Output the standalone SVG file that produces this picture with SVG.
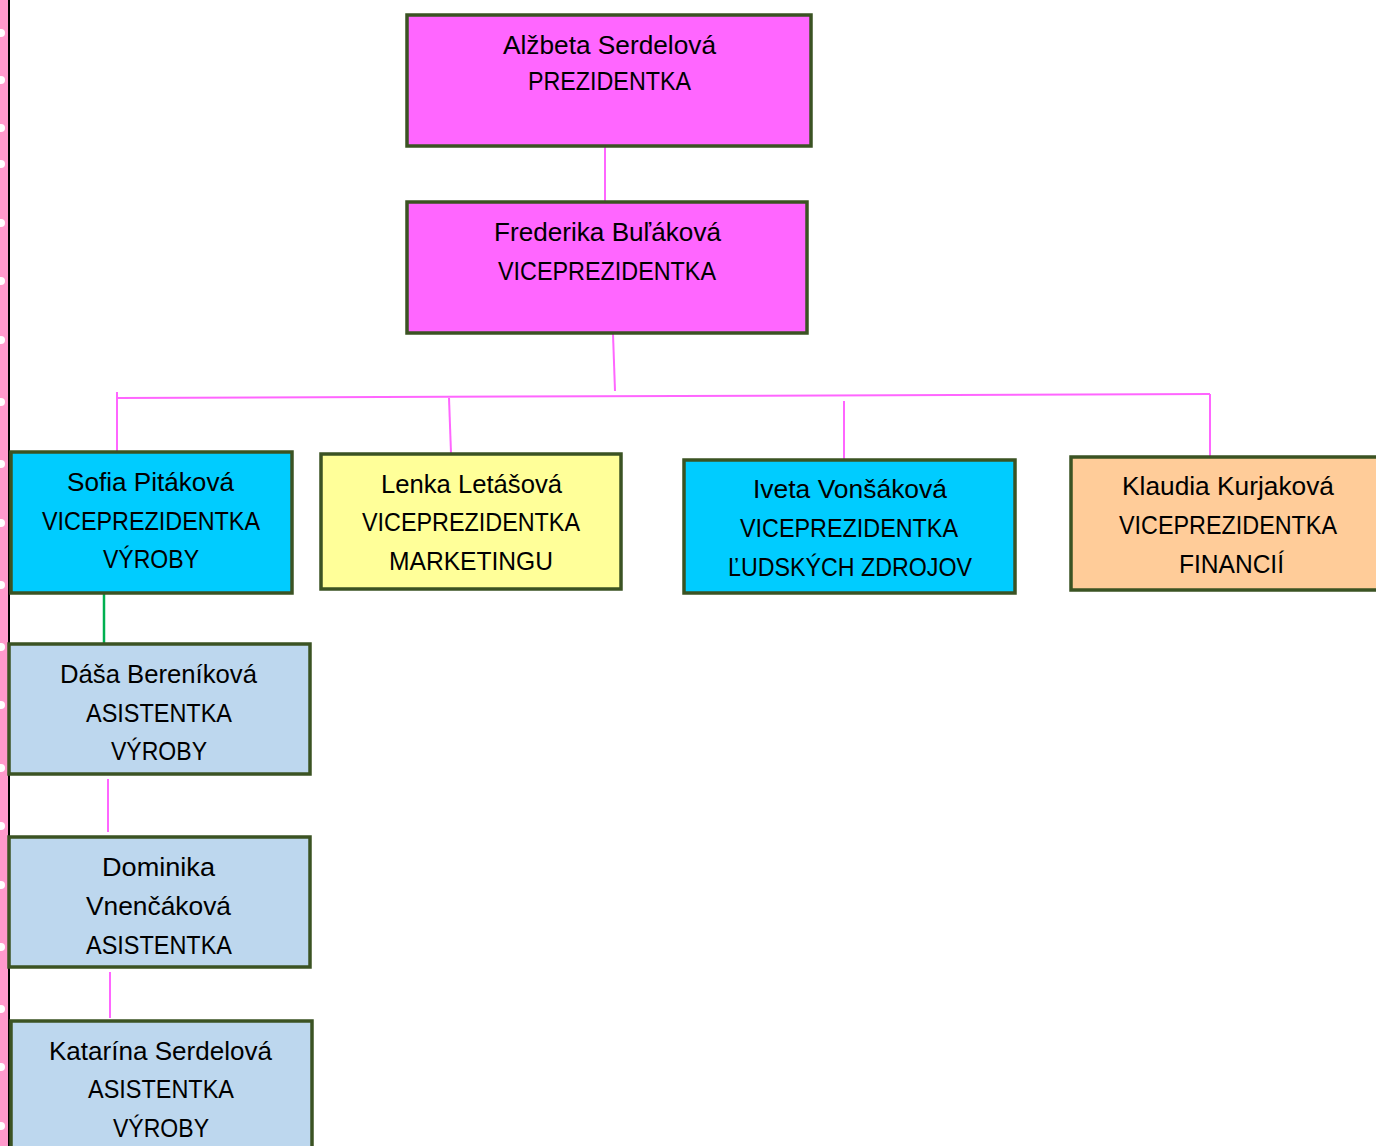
<svg xmlns="http://www.w3.org/2000/svg" width="1376" height="1146" viewBox="0 0 1376 1146">
<style>
.box{stroke:#3B5323;stroke-width:3.5}
.pink{fill:#FF66FF}
.cyan{fill:#00CCFF}
.yellow{fill:#FFFF99}
.orange{fill:#FFCC99}
.light{fill:#BDD7EE}
.t{font-family:"Liberation Sans",Arial,sans-serif;font-size:26px;fill:#000;text-anchor:middle}
.c{stroke:#FF66FF;stroke-width:2;fill:none}
.g{stroke:#00B050;stroke-width:2.5;fill:none}
.dot{fill:#FFFFFF}
</style>
<rect width="1376" height="1146" fill="#FFFFFF"/>
<g id="border">
<rect x="0" y="0" width="8" height="1146" fill="#FF99CC"/>
<rect x="8" y="0" width="2" height="1146" fill="#000000"/>
<g class="dot">
<circle cx="1" cy="33" r="4"/><circle cx="1" cy="80" r="4"/><circle cx="1" cy="128" r="4"/><circle cx="1" cy="164" r="4"/>
<circle cx="1" cy="223" r="4"/><circle cx="1" cy="281" r="4"/><circle cx="1" cy="340" r="4"/><circle cx="1" cy="402" r="4"/>
<circle cx="1" cy="464" r="4"/><circle cx="1" cy="523" r="4"/><circle cx="1" cy="585" r="4"/><circle cx="1" cy="647" r="4"/>
<circle cx="1" cy="705" r="4"/><circle cx="1" cy="768" r="4"/><circle cx="1" cy="826" r="4"/><circle cx="1" cy="885" r="4"/>
<circle cx="1" cy="947" r="4"/><circle cx="1" cy="1009" r="4"/><circle cx="1" cy="1067" r="4"/><circle cx="1" cy="1126" r="4"/>
</g>
</g>
<g id="connectors">
<line class="c" x1="605" y1="147" x2="605" y2="201"/>
<line class="c" x1="613" y1="334" x2="615" y2="391"/>
<line class="c" x1="118" y1="398" x2="1210" y2="394"/>
<line class="c" x1="117" y1="392" x2="117" y2="451"/>
<line class="c" x1="449" y1="398" x2="451" y2="453"/>
<line class="c" x1="844" y1="401" x2="844" y2="459"/>
<line class="c" x1="1210" y1="394" x2="1210" y2="456"/>
<line class="g" x1="104" y1="594" x2="104" y2="647"/>
<line class="c" x1="108" y1="779" x2="108" y2="832"/>
<line class="c" x1="110" y1="972" x2="110" y2="1018"/>
</g>
<g id="alzbeta">
<rect class="box pink" x="407" y="15" width="404" height="131"/>
<text class="t" x="609.5" y="54" textLength="213" lengthAdjust="spacingAndGlyphs">Alžbeta Serdelová</text>
<text class="t" x="609.5" y="90" textLength="163" lengthAdjust="spacingAndGlyphs">PREZIDENTKA</text>
</g>
<g id="frederika">
<rect class="box pink" x="407" y="202" width="400" height="131"/>
<text class="t" x="607.5" y="241" textLength="227" lengthAdjust="spacingAndGlyphs">Frederika Buľáková</text>
<text class="t" x="607" y="280" textLength="218" lengthAdjust="spacingAndGlyphs">VICEPREZIDENTKA</text>
</g>
<g id="sofia">
<rect class="box cyan" x="11" y="452" width="281" height="141"/>
<text class="t" x="150.5" y="491" textLength="167" lengthAdjust="spacingAndGlyphs">Sofia Pitáková</text>
<text class="t" x="151" y="530" textLength="218" lengthAdjust="spacingAndGlyphs">VICEPREZIDENTKA</text>
<text class="t" x="151" y="568" textLength="96" lengthAdjust="spacingAndGlyphs">VÝROBY</text>
</g>
<g id="lenka">
<rect class="box yellow" x="321" y="454" width="300" height="135"/>
<text class="t" x="471.5" y="493" textLength="181" lengthAdjust="spacingAndGlyphs">Lenka Letášová</text>
<text class="t" x="471" y="531" textLength="218" lengthAdjust="spacingAndGlyphs">VICEPREZIDENTKA</text>
<text class="t" x="471" y="570" textLength="164" lengthAdjust="spacingAndGlyphs">MARKETINGU</text>
</g>
<g id="iveta">
<rect class="box cyan" x="684" y="460" width="331" height="133"/>
<text class="t" x="850" y="498" textLength="194" lengthAdjust="spacingAndGlyphs">Iveta Vonšáková</text>
<text class="t" x="849" y="537" textLength="218" lengthAdjust="spacingAndGlyphs">VICEPREZIDENTKA</text>
<text class="t" x="850" y="576" textLength="244" lengthAdjust="spacingAndGlyphs">ĽUDSKÝCH ZDROJOV</text>
</g>
<g id="klaudia">
<rect class="box orange" x="1071" y="457" width="307" height="133"/>
<text class="t" x="1228" y="495" textLength="212" lengthAdjust="spacingAndGlyphs">Klaudia Kurjaková</text>
<text class="t" x="1228" y="534" textLength="218" lengthAdjust="spacingAndGlyphs">VICEPREZIDENTKA</text>
<text class="t" x="1231.5" y="573" textLength="105" lengthAdjust="spacingAndGlyphs">FINANCIÍ</text>
</g>
<g id="dasa">
<rect class="box light" x="9" y="644" width="301" height="130"/>
<text class="t" x="158.5" y="683" textLength="197" lengthAdjust="spacingAndGlyphs">Dáša Bereníková</text>
<text class="t" x="159" y="722" textLength="146" lengthAdjust="spacingAndGlyphs">ASISTENTKA</text>
<text class="t" x="159" y="760" textLength="96" lengthAdjust="spacingAndGlyphs">VÝROBY</text>
</g>
<g id="dominika">
<rect class="box light" x="9" y="837" width="301" height="130"/>
<text class="t" x="158.5" y="876" textLength="113" lengthAdjust="spacingAndGlyphs">Dominika</text>
<text class="t" x="158.5" y="915" textLength="145" lengthAdjust="spacingAndGlyphs">Vnenčáková</text>
<text class="t" x="159" y="954" textLength="146" lengthAdjust="spacingAndGlyphs">ASISTENTKA</text>
</g>
<g id="katarina">
<rect class="box light" x="11" y="1021" width="301" height="140"/>
<text class="t" x="160.5" y="1060" textLength="223" lengthAdjust="spacingAndGlyphs">Katarína Serdelová</text>
<text class="t" x="161" y="1098" textLength="146" lengthAdjust="spacingAndGlyphs">ASISTENTKA</text>
<text class="t" x="161" y="1137" textLength="96" lengthAdjust="spacingAndGlyphs">VÝROBY</text>
</g>
</svg>
